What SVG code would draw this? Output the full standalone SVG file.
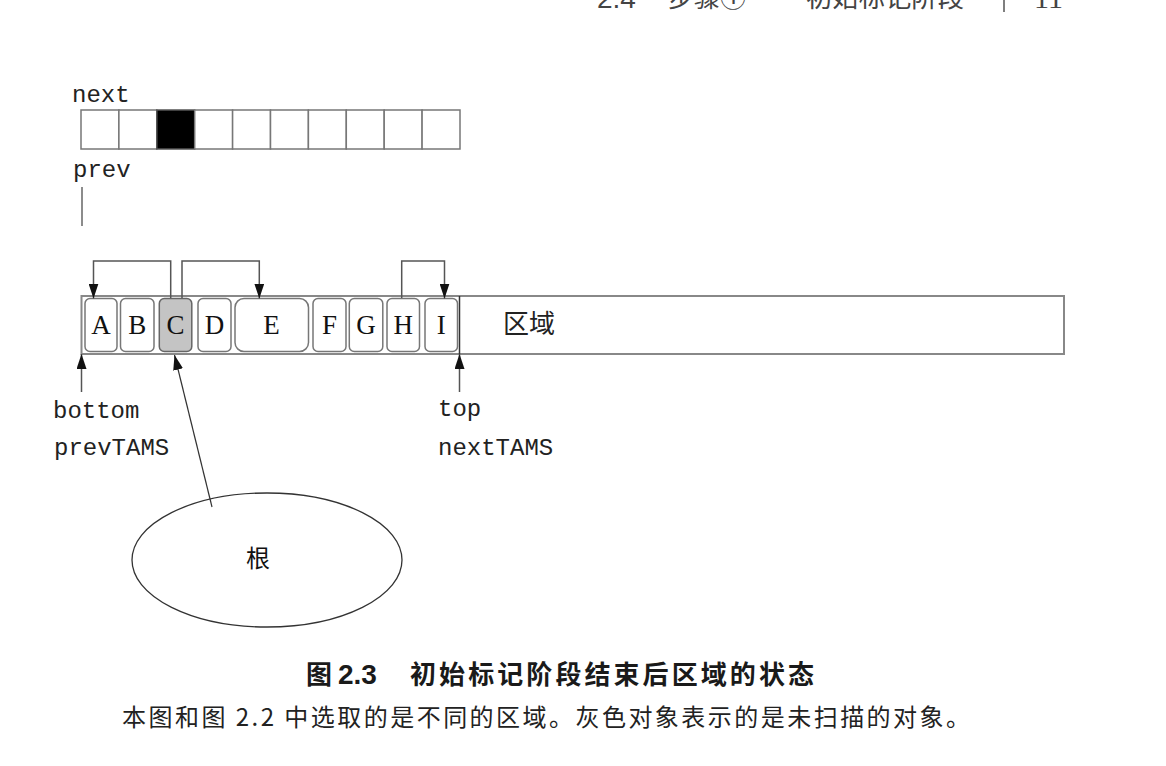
<svg xmlns="http://www.w3.org/2000/svg" width="1166" height="766" viewBox="0 0 1166 766">
<style>
.mono{font-family:"Liberation Mono","DejaVu Sans Mono",monospace;font-size:24px;fill:#222}
.obj{fill:#fff;stroke:#777;stroke-width:1.5}
.gray{fill:#c4c4c4;stroke:#666;stroke-width:1.5}
.letter{font-family:"Liberation Serif",serif;font-size:27px;text-anchor:middle;fill:#111}
.conn{fill:none;stroke:#555;stroke-width:1.5}
.cell{fill:#fff;stroke:#777;stroke-width:1.5}
.cjk{font-family:"Noto Sans CJK SC",sans-serif}
.hdr{fill:#444}
</style>
<defs>
<marker id="ah" viewBox="0 0 15 10" refX="15" refY="5" markerWidth="15" markerHeight="10" markerUnits="userSpaceOnUse" orient="auto">
<path d="M0,0 L15,5 L0,10 z" fill="#111"/>
</marker>
</defs>
<rect width="1166" height="766" fill="#fff"/>

<g id="header">
<text x="597" y="7.5" class="hdr" font-family="Liberation Sans,sans-serif" font-size="28">2.4</text>
<text x="668" y="7" class="cjk hdr" font-size="26">步骤①</text>
<text x="806" y="7" class="cjk hdr" font-size="26" textLength="158" lengthAdjust="spacingAndGlyphs">初始标记阶段</text>
<line x1="1004" y1="0" x2="1004" y2="12" stroke="#555" stroke-width="1.5"/>
<text x="1034" y="7.5" class="hdr" font-family="Liberation Serif,serif" font-size="30">11</text>
</g>

<g id="bitmap">
<text x="72" y="102" class="mono">next</text>
<rect class="cell" x="81" y="110" width="37.9" height="39"/>
<rect class="cell" x="118.9" y="110" width="37.9" height="39"/>
<rect x="156.8" y="110" width="37.9" height="39" fill="#000" stroke="#555" stroke-width="1.5"/>
<rect class="cell" x="194.7" y="110" width="37.9" height="39"/>
<rect class="cell" x="232.6" y="110" width="37.9" height="39"/>
<rect class="cell" x="270.5" y="110" width="37.9" height="39"/>
<rect class="cell" x="308.4" y="110" width="37.9" height="39"/>
<rect class="cell" x="346.3" y="110" width="37.9" height="39"/>
<rect class="cell" x="384.2" y="110" width="37.9" height="39"/>
<rect class="cell" x="422.1" y="110" width="37.9" height="39"/>
<text x="73" y="177" class="mono">prev</text>
<line x1="82" y1="187" x2="82" y2="226" stroke="#666" stroke-width="1.5"/>
</g>

<g id="region">
<rect x="81.5" y="296" width="982.5" height="58" fill="#fff" stroke="#888" stroke-width="2"/>
<line x1="459.5" y1="296" x2="459.5" y2="354" stroke="#333" stroke-width="1.5"/>
<text x="503" y="333" class="cjk" font-size="26" fill="#222">区域</text>
</g>

<g id="obj-A"><rect class="obj" x="85" y="298.5" width="32" height="53" rx="5"/><text class="letter" x="101" y="334">A</text></g>
<g id="obj-B"><rect class="obj" x="120.5" y="298.5" width="33.5" height="53" rx="5"/><text class="letter" x="137.2" y="334">B</text></g>
<g id="obj-C"><rect class="gray" x="159.3" y="298.5" width="32.5" height="53" rx="5"/><text class="letter" x="175.5" y="334">C</text></g>
<g id="obj-D"><rect class="obj" x="198" y="298.5" width="33" height="53" rx="5"/><text class="letter" x="214.5" y="334">D</text></g>
<g id="obj-E"><rect class="obj" x="235" y="298.5" width="73.5" height="53" rx="9"/><text class="letter" x="271.5" y="334">E</text></g>
<g id="obj-F"><rect class="obj" x="313" y="298.5" width="33" height="53" rx="5"/><text class="letter" x="329.5" y="334">F</text></g>
<g id="obj-G"><rect class="obj" x="349.3" y="298.5" width="33.5" height="53" rx="5"/><text class="letter" x="366" y="334">G</text></g>
<g id="obj-H"><rect class="obj" x="387" y="298.5" width="32.5" height="53" rx="5"/><text class="letter" x="403.2" y="334">H</text></g>
<g id="obj-I"><rect class="obj" x="425" y="298.5" width="32.5" height="53" rx="5"/><text class="letter" x="441.2" y="334">I</text></g>

<g id="labels">
<text x="53" y="418" class="mono">bottom</text>
<text x="54" y="455" class="mono">prevTAMS</text>
<text x="438" y="416" class="mono">top</text>
<text x="438" y="455" class="mono">nextTAMS</text>
</g>

<g id="root">
<ellipse cx="267" cy="560" rx="135" ry="67" fill="#fff" stroke="#333" stroke-width="1.3"/>
<text x="258" y="567" class="cjk" font-size="24" text-anchor="middle" fill="#111">根</text>
</g>

<g id="connectors">
<polyline class="conn" points="170.7,298 170.7,261 93.5,261 93.5,298.5" marker-end="url(#ah)"/>
<polyline class="conn" points="182,298 182,261 259.3,261 259.3,298.5" marker-end="url(#ah)"/>
<polyline class="conn" points="401.7,298 401.7,261 444.5,261 444.5,298.5" marker-end="url(#ah)"/>
<line class="conn" x1="81.5" y1="392" x2="81.5" y2="354" marker-end="url(#ah)"/>
<line class="conn" x1="459.5" y1="392" x2="459.5" y2="354" marker-end="url(#ah)"/>
<line x1="212" y1="507" x2="174.5" y2="355" stroke="#333" stroke-width="1.2" marker-end="url(#ah)"/>
</g>

<g id="caption">
<text y="684" fill="#1a1a1a">
<tspan x="306" class="cjk" font-size="26" font-weight="bold">图</tspan>
<tspan x="338" font-family="Liberation Sans,sans-serif" font-size="28" font-weight="bold">2.3</tspan>
<tspan x="410" class="cjk" font-size="26" font-weight="bold" textLength="404" lengthAdjust="spacing">初始标记阶段结束后区域的状态</tspan>
</text>
<text x="122" y="726" class="cjk" font-size="24" fill="#222" textLength="848" lengthAdjust="spacing">本图和图 2.2 中选取的是不同的区域。灰色对象表示的是未扫描的对象。</text>
</g>
</svg>
